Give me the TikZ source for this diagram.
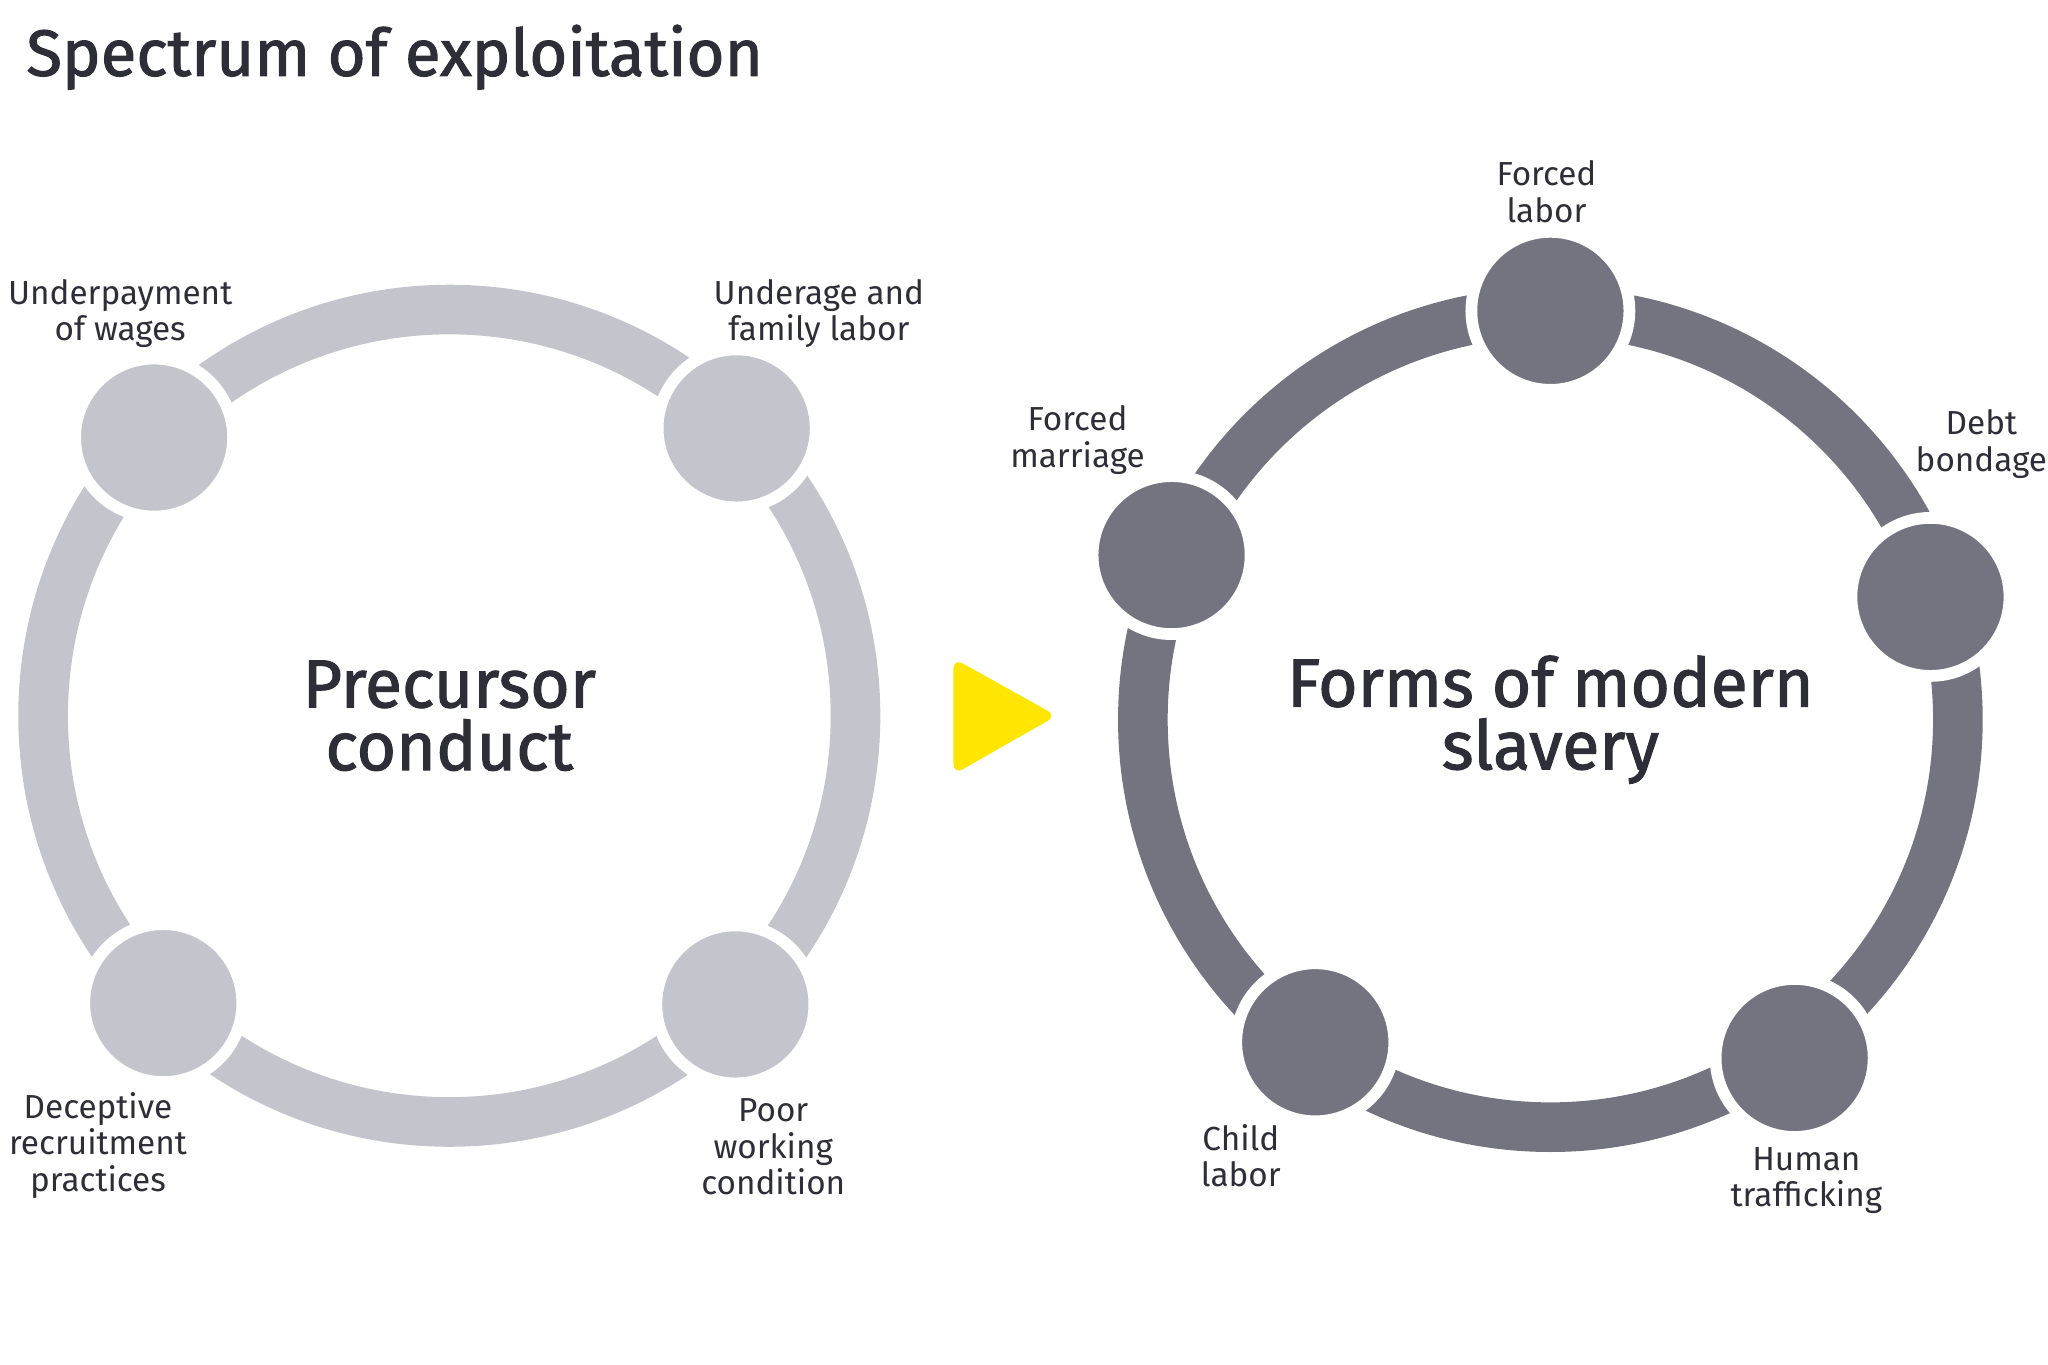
\documentclass[tikz,border=0pt]{standalone}
\usepackage{fontspec}
\setmainfont{Fira Sans}
\newfontfamily\medfont{Fira Sans}[FakeBold=1.6]
\usetikzlibrary{calc}
\usetikzlibrary{positioning}
\definecolor{lightring}{HTML}{C4C5CC}
\definecolor{darkring}{HTML}{747480}
\definecolor{ink}{HTML}{2E2E38}
\definecolor{eyyellow}{HTML}{FFE600}

\begin{document}
\begin{tikzpicture} [x=1pt,y=1pt,
  dot/.style={circle,minimum size=121pt,inner sep=0pt,draw=white,line width=9pt},
  lbl/.style={align=center,text=ink,font=\fontsize{25.5}{28}\selectfont},
  big/.style={align=center,text=ink,font=\medfont\fontsize{52}{48}\selectfont}]
\useasboundingbox (0,0) rectangle (1568,1045);
\node[anchor=base west,text=ink,font=\medfont\fontsize{50}{50}\selectfont,inner sep=0pt] (title) at (20,987) {Spectrum of exploitation};
\coordinate (L) at (344,497);
\coordinate (R) at (1187,494);
% left ring
\draw[lightring,line width=38pt] (L) circle[radius=311];
\foreach \p/\n in {{118,710}/pay,{564,717}/kid,{125,277}/lure,{563,276}/poor}
  \node[dot,fill=lightring] (\n) at (\p) {};
% right ring
\draw[darkring,line width=38pt] (R) circle[radius=312];
\foreach \p/\n in {{1187,807}/labor,{1478,588}/debt,{1374,235}/traffic,{1007,247}/child,{897,620}/marriage}
  \node[dot,fill=darkring] (\n) at (\p) {};
\node[big] (pre) at (L) {Precursor\\conduct};
\node[big] (forms) at (R) {Forms of modern\\slavery};
% arrow
\fill[eyyellow,rounded corners=8pt] (730,541)--(809,497)--(730,452)--cycle;
% labels
\node[lbl] (tpay) at (92,805) {Underpayment\\of wages};
\node[lbl] (tkid) at (627,805) {Underage and\\family labor};
\node[lbl] (tlure) at (75,168) {Deceptive\\recruitment\\practices};
\node[lbl] (tpoor) at (592,167) {Poor\\working\\condition};
\node[lbl] (tlabor) at (1184,898) {Forced\\labor};
\node[lbl] (tdebt) at (1517,705) {Debt\\bondage};
\node[lbl] (tmarriage) at (825,708) {Forced\\marriage};
\node[lbl] (tchild) at (950,160) {Child\\labor};
\node[lbl] (ttraffic) at (1383,141) {Human\\trafficking};
\end{tikzpicture}
\end{document}
